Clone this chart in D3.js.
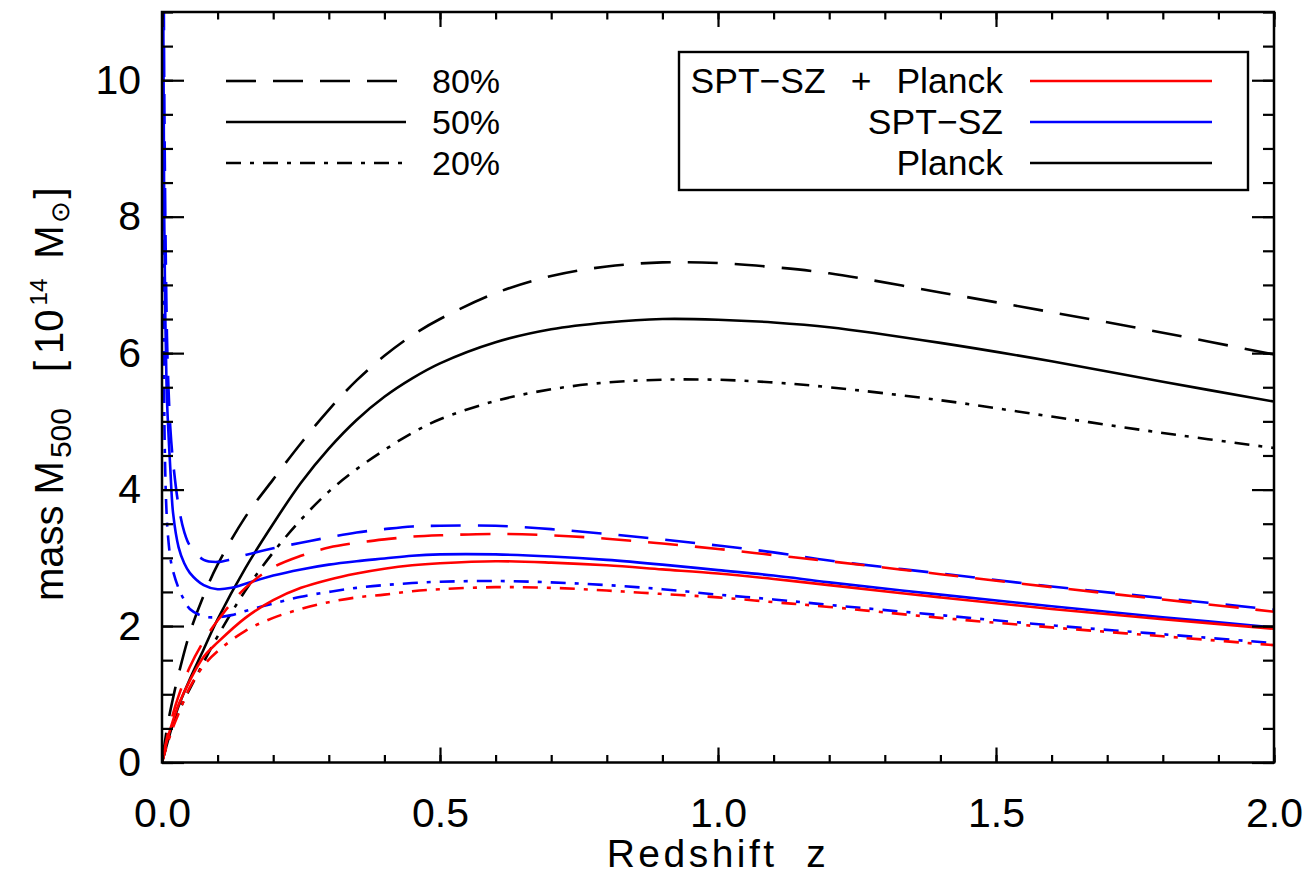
<!DOCTYPE html>
<html>
<head>
<meta charset="utf-8">
<script src="https://cdn.jsdelivr.net/npm/d3@7"></script>
<style>
  body { margin: 0; background: #fff; }
  svg { display: block; }
  text { font-family: "Liberation Sans", Arial, sans-serif; fill: #000; white-space: pre; }
</style>
</head>
<body>
<svg id="chart" width="1313" height="887"></svg>
<script>
// Redshift sampling for curves that start at the origin (Planck, SPT-SZ + Planck)
const zFromZero = [0, 0.01, 0.02, 0.03, 0.05, 0.075, 0.1, 0.15, 0.2, 0.25, 0.3, 0.35, 0.4, 0.45, 0.5,
                   0.6, 0.7, 0.8, 0.9, 1.0, 1.1, 1.2, 1.4, 1.6, 1.8, 2.0];
// Redshift sampling for SPT-SZ curves (diverge towards z = 0)
const zSPT = [0.001, 0.002, 0.004, 0.006, 0.008, 0.01, 0.015, 0.02, 0.03, 0.04, 0.05, 0.075, 0.1, 0.125,
              0.15, 0.2, 0.25, 0.3, 0.35, 0.4, 0.45, 0.5, 0.6, 0.7, 0.8, 0.9, 1.0, 1.1, 1.2, 1.4, 1.6, 1.8, 2.0];

// Mass limits M500 [1e14 Msun] at 80 / 50 / 20 % completeness
const planck80 = [0, 0.55, 0.95, 1.3, 1.9, 2.45, 2.9, 3.6, 4.15, 4.68, 5.17, 5.6, 5.96, 6.26, 6.5,
                  6.88, 7.13, 7.27, 7.33, 7.32, 7.26, 7.17, 6.89, 6.6, 6.3, 5.98];
const planck50 = [0, 0.3, 0.58, 0.83, 1.22, 1.66, 2.1, 2.85, 3.5, 4.1, 4.6, 5.02, 5.36, 5.63, 5.85,
                  6.16, 6.35, 6.45, 6.5, 6.49, 6.45, 6.38, 6.15, 5.88, 5.58, 5.29];
const planck20 = [0, 0.3, 0.55, 0.75, 1.08, 1.47, 1.85, 2.52, 3.08, 3.56, 3.97, 4.3, 4.58, 4.83, 5.03,
                  5.3, 5.47, 5.57, 5.61, 5.61, 5.57, 5.5, 5.31, 5.07, 4.83, 4.61];

const joint80 = [0, 0.4, 0.72, 0.98, 1.4, 1.78, 2.08, 2.56, 2.86, 3.03, 3.15, 3.22, 3.27, 3.31, 3.33,
                 3.35, 3.33, 3.28, 3.21, 3.13, 3.04, 2.95, 2.76, 2.57, 2.39, 2.21];
const joint50 = [0, 0.35, 0.62, 0.85, 1.2, 1.55, 1.76, 2.12, 2.38, 2.56, 2.68, 2.77, 2.84, 2.89, 2.92,
                 2.95, 2.93, 2.89, 2.83, 2.77, 2.69, 2.6, 2.42, 2.25, 2.1, 1.96];
const joint20 = [0, 0.28, 0.52, 0.72, 1.1, 1.42, 1.63, 1.93, 2.12, 2.25, 2.35, 2.42, 2.46, 2.51, 2.54,
                 2.57, 2.56, 2.52, 2.47, 2.42, 2.35, 2.28, 2.12, 1.98, 1.85, 1.72];

const spt80 = [16, 14, 10, 8, 6.7, 5.9, 4.9, 4.4, 3.75, 3.38, 3.18, 2.97, 2.94, 2.98, 3.04, 3.14, 3.22,
               3.3, 3.37, 3.42, 3.46, 3.47, 3.47, 3.42, 3.35, 3.27, 3.18, 3.08, 2.96, 2.77, 2.58, 2.41, 2.24];
const spt50 = [16, 12, 8, 6.5, 5.6, 5.1, 4.3, 3.65, 3.15, 2.92, 2.78, 2.6, 2.54, 2.56, 2.62, 2.74, 2.83,
               2.9, 2.95, 2.99, 3.03, 3.05, 3.05, 3.02, 2.97, 2.9, 2.82, 2.74, 2.64, 2.46, 2.29, 2.13, 1.98];
const spt20 = [12, 8, 5.2, 4.2, 3.7, 3.4, 3.0, 2.8, 2.55, 2.38, 2.25, 2.14, 2.13, 2.16, 2.22, 2.33, 2.43,
               2.5, 2.56, 2.6, 2.63, 2.65, 2.66, 2.64, 2.6, 2.54, 2.46, 2.39, 2.31, 2.16, 2.01, 1.88, 1.75];

const xTicks = [0, 0.5, 1.0, 1.5, 2.0];
const xTickLabels = ["0.0", "0.5", "1.0", "1.5", "2.0"];
const xMinorTicks = d3.range(0, 21).map(i => i / 10);
const yTicks = [0, 2, 4, 6, 8, 10];
const yTickLabels = ["0", "2", "4", "6", "8", "10"];
const yMinorTicks = d3.range(0, 23).map(i => i / 2);
const levelLabels = ["80%", "50%", "20%"];
const sampleLabels = ["SPT\u2212SZ", "SPT\u2212SZ", "Planck"];
const sampleColors = ["#ff0000", "#0000ff", "#000000"];

// Line styles per completeness level
const dashStyles = ["30,17", null, "15,9,4,9"];

const svg = d3.select("#chart");
const plotLeft = 162, plotRight = 1274, plotTop = 12, plotBottom = 762.5;

const x = d3.scaleLinear().domain([0, 2]).range([plotLeft, plotRight]);
const y = d3.scaleLinear().domain([0, 11]).range([plotBottom, plotTop]);

svg.append("defs").append("clipPath").attr("id", "plotClip")
  .append("rect").attr("x", plotLeft).attr("y", plotTop)
  .attr("width", plotRight - plotLeft).attr("height", plotBottom - plotTop);

const smoothLine = d3.line()
  .x(d => x(d[0]))
  .y(d => y(d[1]))
  .curve(d3.curveCatmullRom.alpha(0.5));

const curves = [
  { z: zFromZero, m: planck80, color: sampleColors[2], level: 0 },
  { z: zFromZero, m: planck50, color: sampleColors[2], level: 1 },
  { z: zFromZero, m: planck20, color: sampleColors[2], level: 2 },
  { z: zSPT, m: spt80, color: sampleColors[1], level: 0 },
  { z: zSPT, m: spt50, color: sampleColors[1], level: 1 },
  { z: zSPT, m: spt20, color: sampleColors[1], level: 2 },
  { z: zFromZero, m: joint80, color: sampleColors[0], level: 0 },
  { z: zFromZero, m: joint50, color: sampleColors[0], level: 1 },
  { z: zFromZero, m: joint20, color: sampleColors[0], level: 2 }
];

const plot = svg.append("g").attr("clip-path", "url(#plotClip)");
curves.forEach(c => {
  plot.append("path")
    .datum(c.z.map((z, i) => [z, c.m[i]]))
    .attr("d", smoothLine)
    .attr("fill", "none")
    .attr("stroke", c.color)
    .attr("stroke-width", 2.6)
    .attr("stroke-dasharray", dashStyles[c.level]);
});

// Axes: ticks point inwards on all four sides
function styleAxis(g) {
  g.select(".domain").remove();
  g.selectAll(".tick line").attr("stroke", "#000").attr("stroke-width", 2.2);
  g.selectAll(".tick text").attr("font-size", 41).attr("fill", "#000")
    .attr("font-family", "Liberation Sans, Arial, sans-serif");
}

svg.append("g").attr("transform", `translate(0,${plotBottom})`)
  .call(d3.axisBottom(x).tickValues(xMinorTicks).tickSize(-7.5).tickFormat(""))
  .call(styleAxis);
svg.append("g").attr("transform", `translate(0,${plotBottom})`)
  .call(d3.axisBottom(x).tickValues(xTicks).tickSize(-15).tickPadding(35)
    .tickFormat((d, i) => xTickLabels[i]))
  .call(styleAxis);
svg.append("g").attr("transform", `translate(0,${plotTop})`)
  .call(d3.axisTop(x).tickValues(xMinorTicks).tickSize(-7.5).tickFormat(""))
  .call(styleAxis);
svg.append("g").attr("transform", `translate(0,${plotTop})`)
  .call(d3.axisTop(x).tickValues(xTicks).tickSize(-15).tickFormat(""))
  .call(styleAxis);

svg.append("g").attr("transform", `translate(${plotLeft},0)`)
  .call(d3.axisLeft(y).tickValues(yMinorTicks).tickSize(-11).tickFormat(""))
  .call(styleAxis);
svg.append("g").attr("transform", `translate(${plotLeft},0)`)
  .call(d3.axisLeft(y).tickValues(yTicks).tickSize(-22).tickPadding(21)
    .tickFormat((d, i) => yTickLabels[i]))
  .call(styleAxis);
svg.append("g").attr("transform", `translate(${plotRight},0)`)
  .call(d3.axisRight(y).tickValues(yMinorTicks).tickSize(-11).tickFormat(""))
  .call(styleAxis);
svg.append("g").attr("transform", `translate(${plotRight},0)`)
  .call(d3.axisRight(y).tickValues(yTicks).tickSize(-22).tickFormat(""))
  .call(styleAxis);

// Plot frame
svg.append("rect")
  .attr("x", plotLeft).attr("y", plotTop)
  .attr("width", plotRight - plotLeft).attr("height", plotBottom - plotTop)
  .attr("fill", "none").attr("stroke", "#000").attr("stroke-width", 2.5);

// Axis titles
svg.append("text")
  .attr("x", (plotLeft + plotRight) / 2).attr("y", 867)
  .attr("text-anchor", "middle").attr("font-size", 39)
  .attr("font-family", "DejaVu Sans, sans-serif")
  .attr("letter-spacing", 3.5)
  .text("Redshift  z");

const yTitle = svg.append("text")
  .attr("transform", "translate(63,601) rotate(-90)")
  .attr("text-anchor", "start").attr("font-size", 40);
yTitle.append("tspan").text("mass");
yTitle.append("tspan").attr("dx", 11).text("M");
yTitle.append("tspan").attr("dx", 3).attr("dy", 8).attr("font-size", 30).text("500");
yTitle.append("tspan").attr("dx", 36).attr("dy", -8).text("[");
yTitle.append("tspan").attr("dx", 7).text("10");
yTitle.append("tspan").attr("dx", 4).attr("dy", -16).attr("font-size", 24).text("14");
yTitle.append("tspan").attr("dx", 20).attr("dy", 16).text("M");
yTitle.append("tspan").attr("dx", 2).attr("dy", 6).attr("font-size", 26).text("\u2299");
yTitle.append("tspan").attr("dx", 3).attr("dy", -6).text("]");

// Completeness level key (line style)
const rowY = [81, 122, 163];
levelLabels.forEach((lab, i) => {
  svg.append("line")
    .attr("x1", 226).attr("x2", 406).attr("y1", rowY[i]).attr("y2", rowY[i])
    .attr("stroke", "#000").attr("stroke-width", 2.6)
    .attr("stroke-dasharray", dashStyles[i]);
  svg.append("text")
    .attr("x", 432).attr("y", rowY[i] + 12)
    .attr("font-size", 34).text(lab);
});

// Sample key (colour), boxed
svg.append("rect")
  .attr("x", 679).attr("y", 52).attr("width", 569).attr("height", 138)
  .attr("fill", "#fff").attr("stroke", "#000").attr("stroke-width", 2.4);
sampleLabels.forEach((lab, i) => {
  const t = svg.append("text")
    .attr("x", 1003).attr("y", rowY[i] + 12)
    .attr("text-anchor", "end").attr("font-size", 35.5);
  t.append("tspan").text(lab);
  if (i === 0) {
    // combined sample: "SPT-SZ + Planck"
    t.append("tspan").attr("dx", 25).text("+");
    t.append("tspan").attr("dx", 25).text(sampleLabels[2]);
  }
  svg.append("line")
    .attr("x1", 1030).attr("x2", 1212).attr("y1", rowY[i]).attr("y2", rowY[i])
    .attr("stroke", sampleColors[i]).attr("stroke-width", 2.6);
});
</script>
</body>
</html>
